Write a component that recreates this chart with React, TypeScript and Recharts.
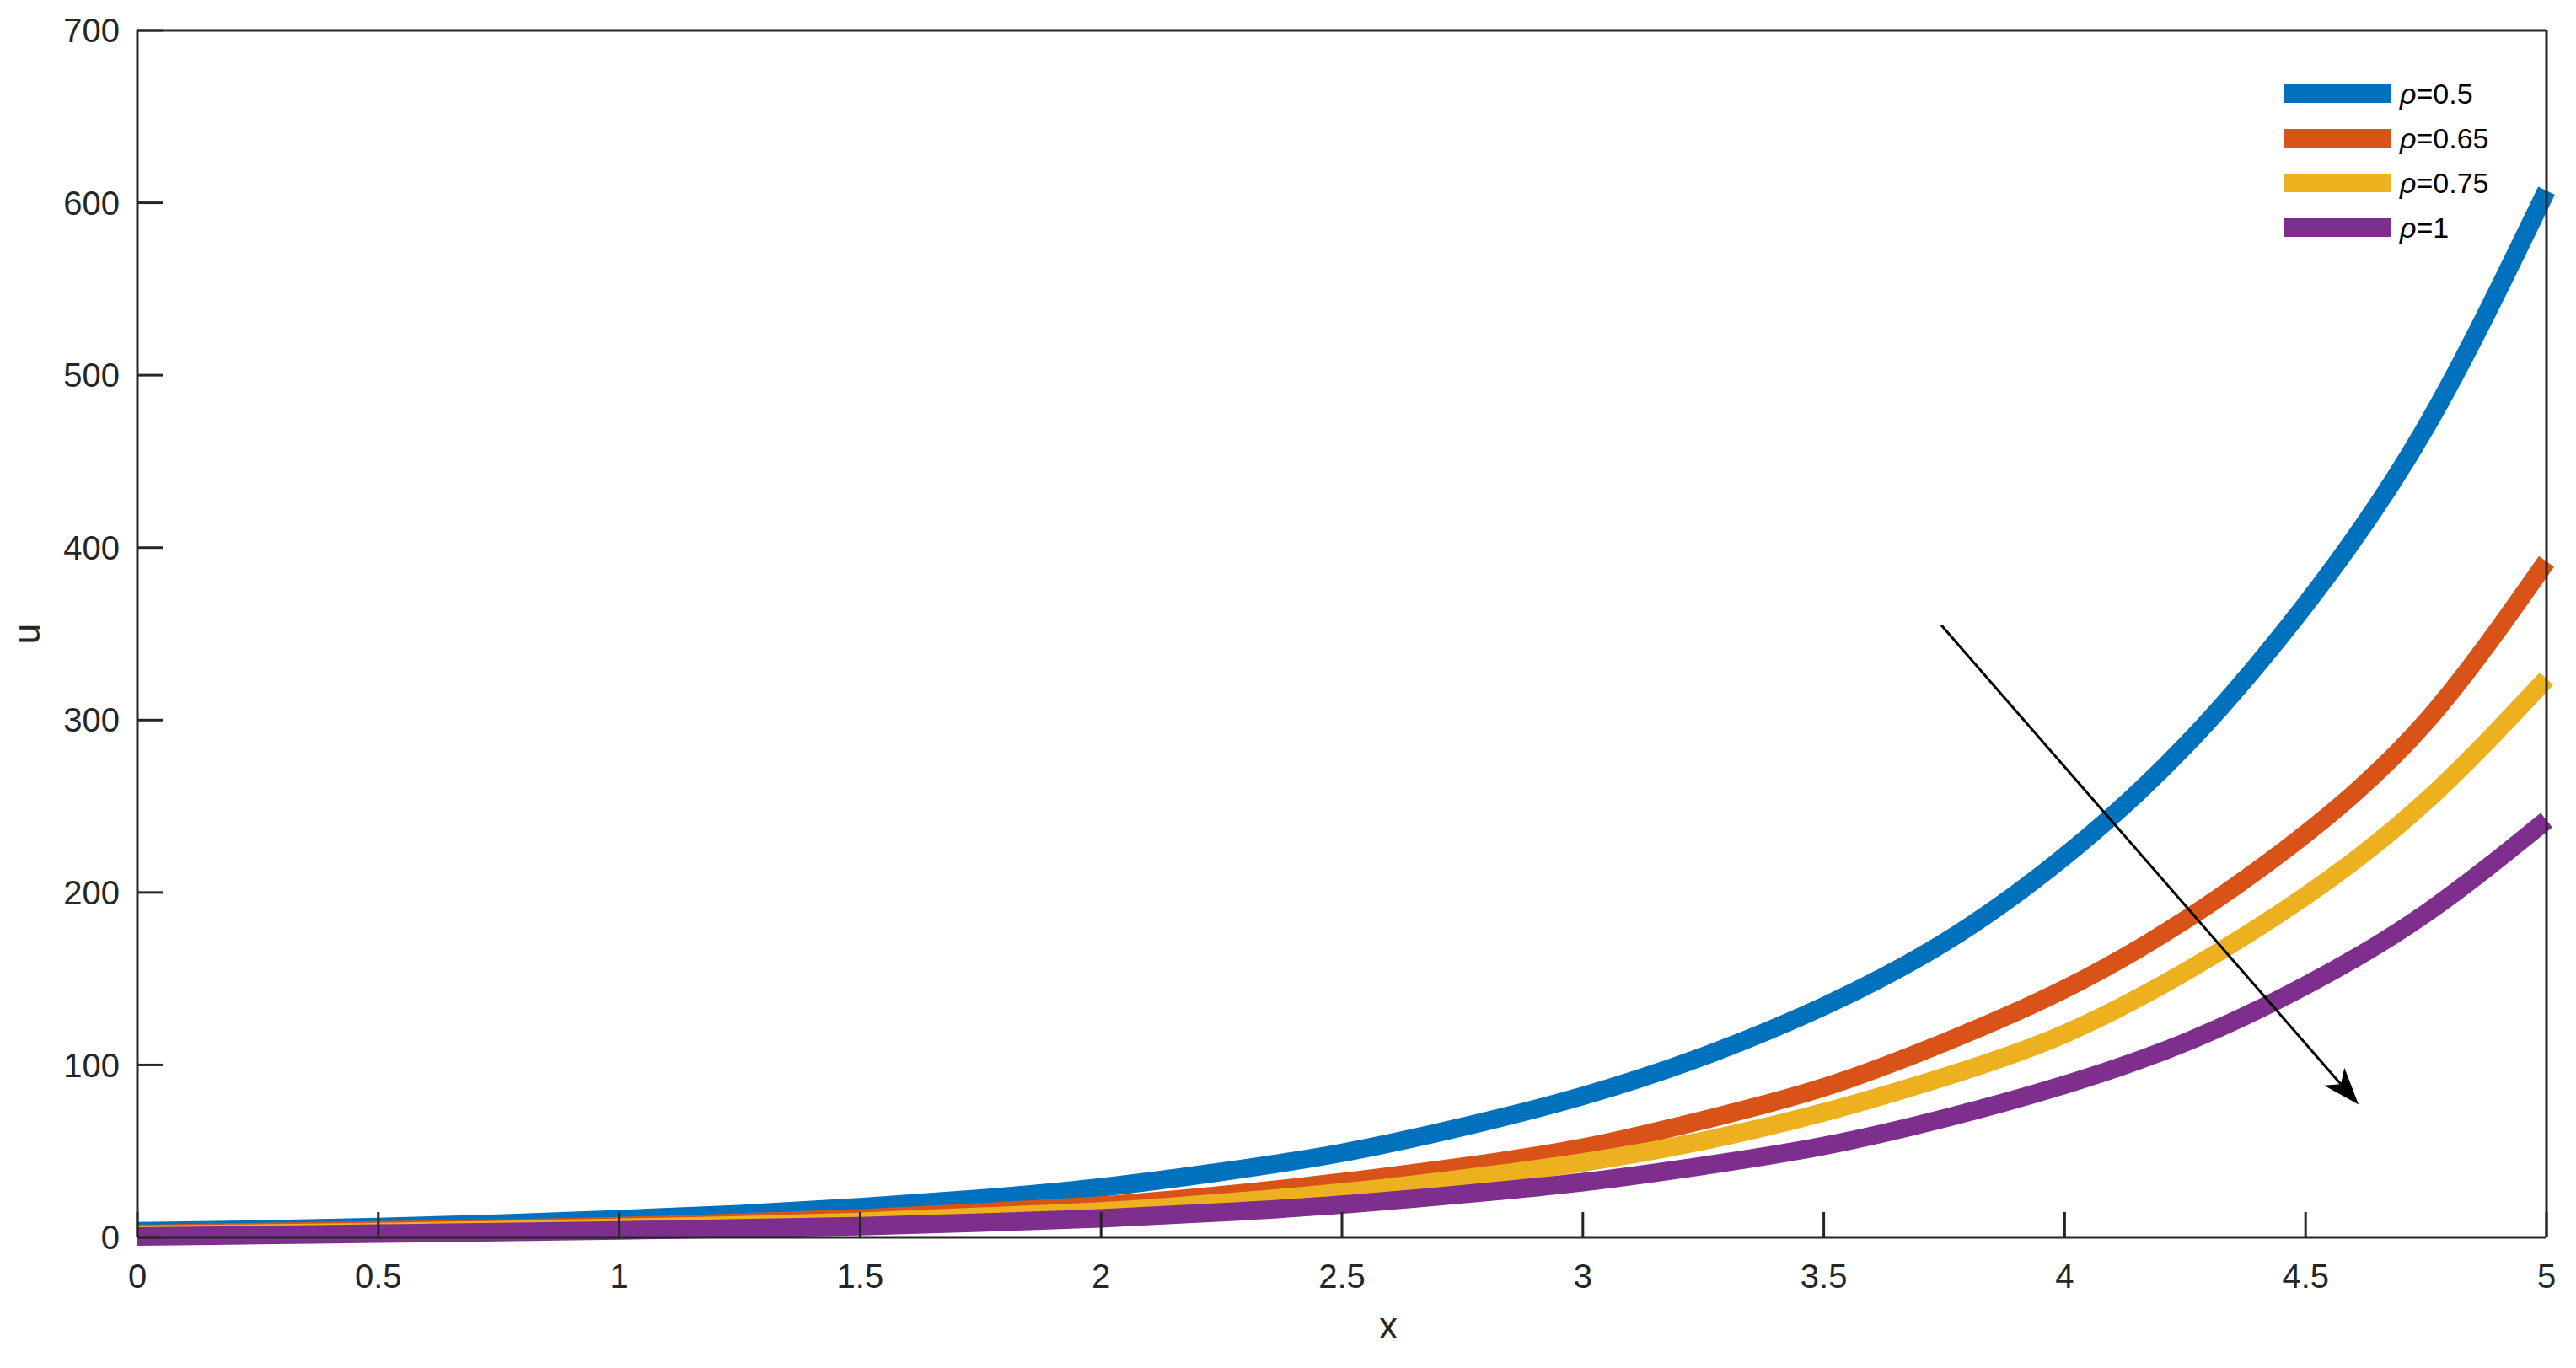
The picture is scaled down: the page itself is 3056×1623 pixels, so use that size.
import React from "react";
import {
  LineChart,
  Line,
  XAxis,
  YAxis,
  Legend,
  ReferenceLine,
} from "recharts";

// x positions and curve values
const xs = [
  0, 0.25, 0.5, 0.75, 1, 1.25, 1.5, 1.75, 2, 2.25, 2.5, 2.75, 3, 3.25, 3.5, 3.75, 4, 4.25,
  4.5, 4.75, 5,
];
const rho050 = [
  3.5, 4.5, 6, 8, 10.5, 13.5, 17.5, 22.5, 29, 38, 49, 64, 82, 105, 134, 171, 221, 285, 367,
  470, 607,
];
const rho065 = [
  2, 3, 4, 5, 6.5, 8.5, 11, 14.5, 18.5, 24.5, 32, 41, 52, 68, 87, 113, 144, 184, 234, 299,
  392,
];
const rho075 = [
  1.5, 2.2, 3, 4.2, 5.5, 7, 9, 12, 15, 20, 26, 34, 43.5, 56, 72.5, 93, 118, 154, 198, 253,
  324,
];
const rho100 = [
  0.5, 1.3, 2.2, 3, 4, 5.2, 6.5, 8.5, 11, 14.5, 19, 25, 32, 41.5, 53, 69, 88.5, 113, 146,
  188, 242,
];

const xTicks = [0, 0.5, 1, 1.5, 2, 2.5, 3, 3.5, 4, 4.5, 5];
const yTicks = [0, 100, 200, 300, 400, 500, 600, 700];

const seriesNames = ["ρ=0.5", "ρ=0.65", "ρ=0.75", "ρ=1"];
const seriesColors = ["#0072BD", "#D95319", "#EDB120", "#7E2F8E"];
const seriesKeys = ["r050", "r065", "r075", "r100"];

// arrow annotation, in data coordinates
const arrowStart = { x: 3.744, y: 355 };
const arrowEnd = { x: 4.61, y: 77 };

const data = xs.map((x, i) => ({
  x,
  r050: rho050[i],
  r065: rho065[i],
  r075: rho075[i],
  r100: rho100[i],
}));

const AXIS = "#262626";
const FONT = "'Liberation Sans', Arial, Helvetica, sans-serif";

const ArrowShape = (props: any) => {
  const { x1, y1, x2, y2 } = props;
  const dx = x2 - x1;
  const dy = y2 - y1;
  const len = Math.hypot(dx, dy) || 1;
  const ux = dx / len;
  const uy = dy / len;
  const nx = -uy;
  const ny = ux;
  const L = 44; // head length
  const W = 16; // head half width
  const N = 32; // notch depth
  const bx = x2 - ux * L;
  const by = y2 - uy * L;
  const head = `${x2},${y2} ${bx + nx * W},${by + ny * W} ${x2 - ux * N},${y2 - uy * N} ${bx - nx * W},${by - ny * W}`;
  return (
    <g>
      <line x1={x1} y1={y1} x2={x2 - ux * N} y2={y2 - uy * N} stroke="#000" strokeWidth={3} />
      <polygon points={head} fill="#000" />
    </g>
  );
};

const renderLegend = (props: any) => {
  const { payload } = props;
  return (
    <div style={{ fontFamily: FONT }}>
      {(payload || []).map((entry: any) => {
        const parts = String(entry.value).split("=");
        return (
          <div
            key={entry.value}
            style={{ display: "flex", alignItems: "center", height: 53 }}
          >
            <div style={{ width: 128, height: 22, background: entry.color }} />
            <span style={{ marginLeft: 10, fontSize: 34, color: "#000", lineHeight: "34px" }}>
              <i>{parts[0]}</i>={parts[1]}
            </span>
          </div>
        );
      })}
    </div>
  );
};

export default function App() {
  return (
    <div
      style={{
        position: "absolute",
        left: 0,
        top: 0,
        width: 3056,
        height: 1623,
        background: "#fff",
        fontFamily: FONT,
      }}
    >
      <LineChart
        width={3056}
        height={1623}
        data={data}
        margin={{ top: 35, right: 34, bottom: 0, left: 0 }}
      >
        <XAxis
          dataKey="x"
          type="number"
          domain={[0, 5]}
          ticks={xTicks}
          interval={0}
          height={155}
          stroke={AXIS}
          strokeWidth={3}
          tickSize={-30}
          tickMargin={62}
          tick={{ fill: AXIS, fontSize: 40 }}
          label={{
            content: (p: any) => {
              const vb = p.viewBox;
              return (
                <text x={1647} y={vb.y + 120} textAnchor="middle" fontSize={44} fill={AXIS}>
                  x
                </text>
              );
            },
          }}
        />
        <XAxis
          xAxisId="t"
          orientation="top"
          type="number"
          domain={[0, 5]}
          ticks={xTicks}
          interval={0}
          height={1}
          stroke={AXIS}
          strokeWidth={3}
          tickSize={-30}
          tick={false}
        />
        <YAxis
          type="number"
          domain={[0, 700]}
          ticks={yTicks}
          interval={0}
          width={163}
          stroke={AXIS}
          strokeWidth={3}
          tickSize={-30}
          tickMargin={51}
          tick={{ fill: AXIS, fontSize: 40 }}
          label={{
            content: (p: any) => {
              const vb = p.viewBox;
              const cy = vb.y + vb.height / 2;
              return (
                <text
                  transform={`translate(47,${cy}) rotate(-90)`}
                  textAnchor="middle"
                  fontSize={44}
                  fill={AXIS}
                >
                  u
                </text>
              );
            },
          }}
        />
        <YAxis
          yAxisId="r"
          orientation="right"
          type="number"
          domain={[0, 700]}
          ticks={yTicks}
          interval={0}
          width={1}
          stroke={AXIS}
          strokeWidth={3}
          tickSize={-30}
          tick={false}
        />
        <Legend
          content={renderLegend}
          layout="vertical"
          align="center"
          verticalAlign="middle"
          wrapperStyle={{ top: 84, left: 2709, width: "auto" }}
        />
        {seriesKeys.map((k, i) => (
          <Line
            key={k}
            dataKey={k}
            name={seriesNames[i]}
            type="natural"
            stroke={seriesColors[i]}
            strokeWidth={22}
            dot={false}
            activeDot={false}
            isAnimationActive={false}
          />
        ))}
        <ReferenceLine
          segment={[arrowStart, arrowEnd]}
          shape={ArrowShape}
          ifOverflow="visible"
        />
      </LineChart>
    </div>
  );
}
